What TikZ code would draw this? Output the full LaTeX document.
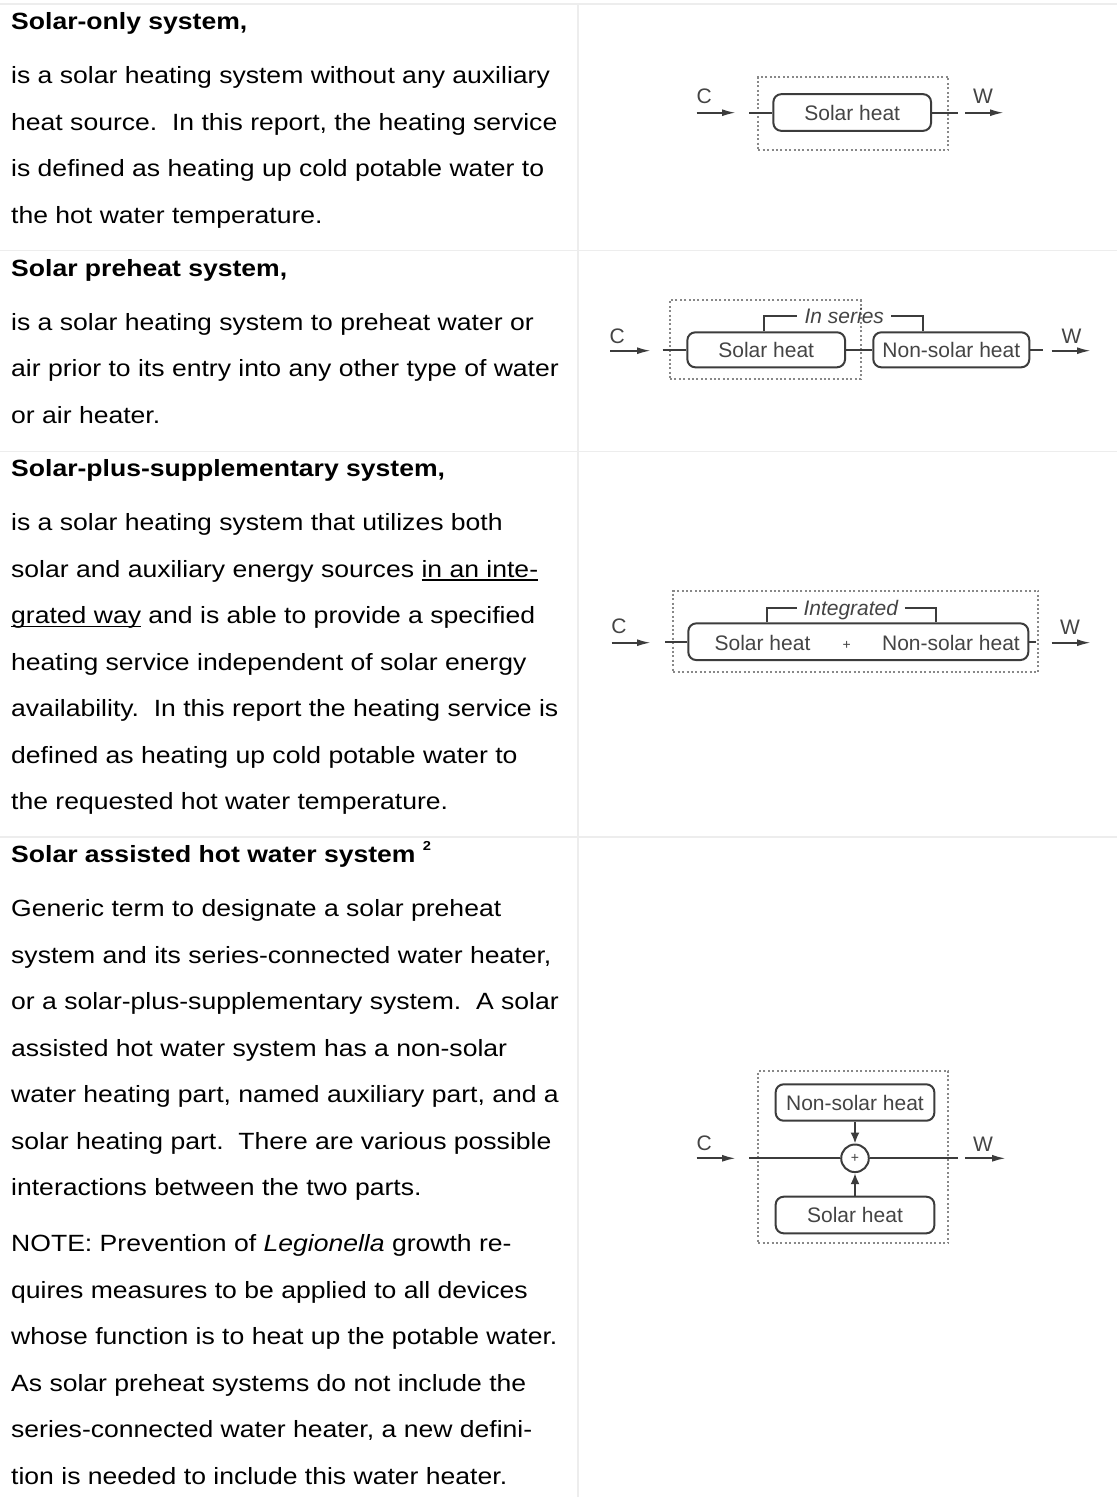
\documentclass[tikz,border=0pt]{standalone}
\usepackage{fontspec}
\setmainfont{Liberation Sans}
\newfontfamily\bodyf[FakeStretch=1.13]{Liberation Sans}
\usetikzlibrary{arrows.meta}
\newcommand\bodyfont{\bodyf\fontsize{23.5}{28}\selectfont}
\newcommand\dfont{\fontsize{21}{25}\selectfont}
\newcommand\dsmall{\fontsize{14}{16}\selectfont}
\newcommand\myul[1]{\setbox0\hbox{#1}\rlap{\rule[-3.2pt]{\wd0}{1.3pt}}\box0{}}
\definecolor{gridc}{HTML}{EDEDED}
\definecolor{dk}{HTML}{3C3C3C}
\definecolor{dtxt}{HTML}{444444}
\definecolor{dotc}{HTML}{888888}
\tikzset{
  bodytxt/.style={anchor=base west, inner sep=0pt, font=\bodyfont},
  ttl/.style={anchor=base west, inner sep=0pt, font=\bodyfont\bfseries},
  hbox/.style={draw=dk, line width=2pt, rounded corners=8pt, text=dtxt, font=\dfont, inner sep=0pt},
  dline/.style={draw=dk, line width=2pt},
  dotbox/.style={draw=dotc, line width=2pt, dash pattern=on 2pt off 2.4pt, inner sep=0pt},
  lbl/.style={anchor=base west, inner sep=0pt, text=dtxt, font=\dfont},
  intext/.style={anchor=base, inner sep=0pt, text=dtxt, font=\dfont},
  tag/.style={inner ysep=0pt, text height=15pt, text depth=0pt, text=dtxt, font=\dfont\itshape},
  flow/.style={draw=dk, line width=2pt, -{Latex[length=14pt,width=7pt]}},
  flowv/.style={draw=dk, line width=2pt, -{Latex[length=11pt,width=9pt]}},
  sumc/.style={circle, draw=dk, line width=2pt, minimum size=27.6pt, inner sep=0pt, font=\dsmall, text=dtxt},
  tline/.style={draw=gridc, line width=1.8pt}
}
\begin{document}
\begin{tikzpicture}[x=1pt,y=-1pt]
\useasboundingbox (0,0) rectangle (1117,1497);
\fill[white] (0,0) rectangle (1117,1497);
% table grid
\draw[tline] (0,4) -- (1117,4);
\draw[tline] (0,250.5) -- (1117,250.5);
\draw[tline] (0,451.5) -- (1117,451.5);
\draw[tline] (0,837.3) -- (1117,837.3);
\draw[tline] (578,4) -- (578,1497);

% row 1
\node[ttl] (r1t) at (11,29.6) {Solar-only system,};
\node[bodytxt] (r1a) at (11,83.9) {is a solar heating system without any auxiliary};
\node[bodytxt] (r1b) at (11,130.4) {heat source.\ \ In this report, the heating service};
\node[bodytxt] (r1c) at (11,176.9) {is defined as heating up cold potable water to};
\node[bodytxt] (r1d) at (11,223.4) {the hot water temperature.};

% row 2
\node[ttl] (r2t) at (11,276.1) {Solar preheat system,};
\node[bodytxt] (r2a) at (11,330.4) {is a solar heating system to preheat water or};
\node[bodytxt] (r2b) at (11,376.9) {air prior to its entry into any other type of water};
\node[bodytxt] (r2c) at (11,423.4) {or air heater.};

% row 3
\node[ttl] (r3t) at (11,476.6) {Solar-plus-supplementary system,};
\node[bodytxt] (r3a) at (11,530.9) {is a solar heating system that utilizes both};
\node[bodytxt] (r3b) at (11,577.4) {solar and auxiliary energy sources \myul{in an inte-}};
\node[bodytxt] (r3c) at (11,623.9) {\myul{grated way} and is able to provide a specified};
\node[bodytxt] (r3d) at (11,670.4) {heating service independent of solar energy};
\node[bodytxt] (r3e) at (11,716.9) {availability.\ \ In this report the heating service is};
\node[bodytxt] (r3f) at (11,763.4) {defined as heating up cold potable water to};
\node[bodytxt] (r3g) at (11,809.9) {the requested hot water temperature.};

% row 4
\node[ttl] (r4t) at (11,862.6) {Solar assisted hot water system \raisebox{12pt}{\fontsize{13}{13}\selectfont 2}};
\node[bodytxt] (r4a) at (11,916.9) {Generic term to designate a solar preheat};
\node[bodytxt] (r4b) at (11,963.4) {system and its series-connected water heater,};
\node[bodytxt] (r4c) at (11,1009.9) {or a solar-plus-supplementary system.\ \ A solar};
\node[bodytxt] (r4d) at (11,1056.4) {assisted hot water system has a non-solar};
\node[bodytxt] (r4e) at (11,1102.9) {water heating part, named auxiliary part, and a};
\node[bodytxt] (r4f) at (11,1149.4) {solar heating part.\ \ There are various possible};
\node[bodytxt] (r4g) at (11,1195.9) {interactions between the two parts.};
\node[bodytxt] (r4h) at (11,1251.9) {NOTE: Prevention of \textit{Legionella} growth re-};
\node[bodytxt] (r4i) at (11,1298.4) {quires measures to be applied to all devices};
\node[bodytxt] (r4j) at (11,1344.9) {whose function is to heat up the potable water.};
\node[bodytxt] (r4k) at (11,1391.4) {As solar preheat systems do not include the};
\node[bodytxt] (r4l) at (11,1437.9) {series-connected water heater, a new defini-};
\node[bodytxt] (r4m) at (11,1484.4) {tion is needed to include this water heater.};

% ---------- diagram 1 ----------
\node[dotbox, minimum width=190pt, minimum height=73.3pt] (d1f) at (853.3,113.3) {};
\node[hbox, minimum width=157.7pt, minimum height=36.7pt] (d1s) at (852.2,112.5) {Solar heat};
\coordinate (d1l) at (749,112.5);
\coordinate (d1r) at (958.3,112.5);
\draw[dline] (d1l) -- (d1s.west);
\draw[dline] (d1s.east) -- (d1r);
\node[lbl] (d1c) at (696.5,103.5) {C};
\coordinate (d1ca) at (696.7,112.7);
\coordinate (d1cb) at (736,112.7);
\draw[flow] (d1ca) -- (d1cb);
\node[lbl] (d1w) at (973,103.5) {W};
\coordinate (d1wa) at (965,112.7);
\coordinate (d1wb) at (1004,112.7);
\draw[flow] (d1wa) -- (d1wb);

% ---------- diagram 2 ----------
\node[dotbox, minimum width=190.7pt, minimum height=79.3pt] (d2f) at (765.3,339.7) {};
\node[hbox, minimum width=157.7pt, minimum height=35pt] (d2s) at (766.2,349.8) {Solar heat};
\node[hbox, minimum width=156pt, minimum height=35pt] (d2n) at (951.3,349.8) {Non-solar heat};
\coordinate (d2l) at (662.7,349.8);
\coordinate (d2r) at (1043.3,349.8);
\draw[dline] (d2l) -- (d2s.west);
\draw[dline] (d2s.east) -- (d2n.west);
\draw[dline] (d2n.east) -- (d2r);
\node[tag, inner xsep=7pt] (d2g) at (844.3,316) {In series};
\draw[dline] ([xshift=-2.2pt]d2s.north) |- (d2g.west);
\draw[dline] (d2g.east) -| ([xshift=-28pt]d2n.north);
\node[lbl] (d2c) at (609.5,343) {C};
\coordinate (d2ca) at (610,350.7);
\coordinate (d2cb) at (651,350.7);
\draw[flow] (d2ca) -- (d2cb);
\node[lbl] (d2w) at (1061.5,343) {W};
\coordinate (d2wa) at (1051.7,350.7);
\coordinate (d2wb) at (1091,350.7);
\draw[flow] (d2wa) -- (d2wb);

% ---------- diagram 3 ----------
\node[dotbox, minimum width=365pt, minimum height=81pt] (d3f) at (855.8,631.2) {};
\node[hbox, minimum width=340pt, minimum height=36.7pt] (d3b) at (858.3,641.7) {};
\node[intext] (d3t1) at (762.5,650) {Solar heat};
\node[intext, font=\dsmall] (d3p) at (846.7,649) {+};
\node[intext] (d3t2) at (951,650) {Non-solar heat};
\coordinate (d3l) at (665,641.7);
\coordinate (d3r) at (1036,641.7);
\draw[dline] (d3l) -- (d3b.west);
\draw[dline] (d3b.east) -- (d3r);
\node[tag, inner xsep=6.5pt] (d3g) at (850.8,608.3) {Integrated};
\draw[dline] ([xshift=-91.6pt]d3b.north) |- (d3g.west);
\draw[dline] (d3g.east) -| ([xshift=77.7pt]d3b.north);
\node[lbl] (d3c) at (611.2,633.3) {C};
\coordinate (d3ca) at (611.7,642.7);
\coordinate (d3cb) at (651,642.7);
\draw[flow] (d3ca) -- (d3cb);
\node[lbl] (d3w) at (1060,634) {W};
\coordinate (d3wa) at (1051.7,642.7);
\coordinate (d3wb) at (1091,642.7);
\draw[flow] (d3wa) -- (d3wb);

% ---------- diagram 4 ----------
\node[dotbox, minimum width=190pt, minimum height=172.6pt] (d4f) at (853.3,1157) {};
\node[hbox, minimum width=158.7pt, minimum height=36.4pt] (d4n) at (855,1102.5) {Non-solar heat};
\node[hbox, minimum width=158.7pt, minimum height=36.6pt] (d4s) at (855,1215) {Solar heat};
\node[sumc] (d4o) at (855,1158.3) {+};
\coordinate (d4l) at (749,1158.3);
\coordinate (d4r) at (958.3,1158.3);
\draw[dline] (d4l) -- (d4o.west);
\draw[dline] (d4o.east) -- (d4r);
\draw[flowv] (d4n.south) -- (d4o.north);
\draw[flowv] (d4s.north) -- (d4o.south);
\node[lbl] (d4c) at (696.5,1150.5) {C};
\coordinate (d4ca) at (696.7,1158.3);
\coordinate (d4cb) at (736,1158.3);
\draw[flow] (d4ca) -- (d4cb);
\node[lbl] (d4w) at (973,1151) {W};
\coordinate (d4wa) at (965,1158.3);
\coordinate (d4wb) at (1006,1158.3);
\draw[flow] (d4wa) -- (d4wb);
\end{tikzpicture}
\end{document}
